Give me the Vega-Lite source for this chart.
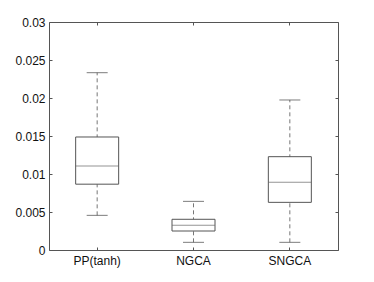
{
  "$schema": "https://vega.github.io/schema/vega-lite/v6.json",
  "width": 289,
  "height": 228,
  "autosize": "none",
  "padding": {"left": 49, "top": 22, "right": 36, "bottom": 32},
  "background": "white",
  "config": {
    "view": {"stroke": "#555", "strokeWidth": 1},
    "font": "Liberation Sans",
    "axis": {"labelFont": "Liberation Sans", "labelFontSize": 12, "labelColor": "#111", "grid": false, "domain": false, "tickColor": "#555", "title": null}
  },
  "data": {
    "values": [
      {"method": "PP(tanh)", "lower": 0.00456, "q1": 0.00866, "median": 0.01105, "q3": 0.01487, "upper": 0.02333},
      {"method": "NGCA", "lower": 0.00101, "q1": 0.0025, "median": 0.00325, "q3": 0.00404, "upper": 0.0064},
      {"method": "SNGCA", "lower": 0.00101, "q1": 0.00627, "median": 0.0089, "q3": 0.01228, "upper": 0.01974}
    ]
  },
  "layer": [
    {
      "mark": {"type": "rule", "color": "#777", "strokeDash": [4, 3], "strokeWidth": 1},
      "encoding": {
        "x": {"field": "method", "type": "nominal", "sort": null, "scale": {"paddingInner": 0, "paddingOuter": 0},
              "axis": {"orient": "bottom", "labelAngle": 0, "tickSize": -3, "labelPadding": 8}},
        "y": {"field": "lower", "type": "quantitative", "scale": {"domain": [0, 0.03], "nice": false, "zero": false},
              "axis": {"orient": "left", "values": [0, 0.005, 0.01, 0.015, 0.02, 0.025, 0.03], "format": "~g", "tickSize": -3, "labelPadding": 7}},
        "y2": {"field": "upper"}
      }
    },
    {
      "mark": {"type": "bar", "width": 43, "fill": "white", "stroke": "#555", "strokeWidth": 1},
      "encoding": {
        "x": {"field": "method", "type": "nominal", "sort": null,
              "axis": {"orient": "top", "labels": false, "tickSize": -3}},
        "y": {"field": "q1", "type": "quantitative",
              "axis": {"orient": "right", "labels": false, "values": [0, 0.005, 0.01, 0.015, 0.02, 0.025, 0.03], "tickSize": -3}},
        "y2": {"field": "q3"}
      }
    },
    {
      "mark": {"type": "tick", "color": "#666", "size": 43, "thickness": 1, "orient": "horizontal"},
      "encoding": {
        "x": {"field": "method", "type": "nominal", "sort": null, "axis": null},
        "y": {"field": "median", "type": "quantitative", "axis": null}
      }
    },
    {
      "mark": {"type": "tick", "color": "#444", "size": 21, "thickness": 1, "orient": "horizontal"},
      "encoding": {
        "x": {"field": "method", "type": "nominal", "sort": null, "axis": null},
        "y": {"field": "upper", "type": "quantitative", "axis": null}
      }
    },
    {
      "mark": {"type": "tick", "color": "#444", "size": 21, "thickness": 1, "orient": "horizontal"},
      "encoding": {
        "x": {"field": "method", "type": "nominal", "sort": null, "axis": null},
        "y": {"field": "lower", "type": "quantitative", "axis": null}
      }
    }
  ],
  "resolve": {"axis": {"x": "independent", "y": "independent"}}
}
